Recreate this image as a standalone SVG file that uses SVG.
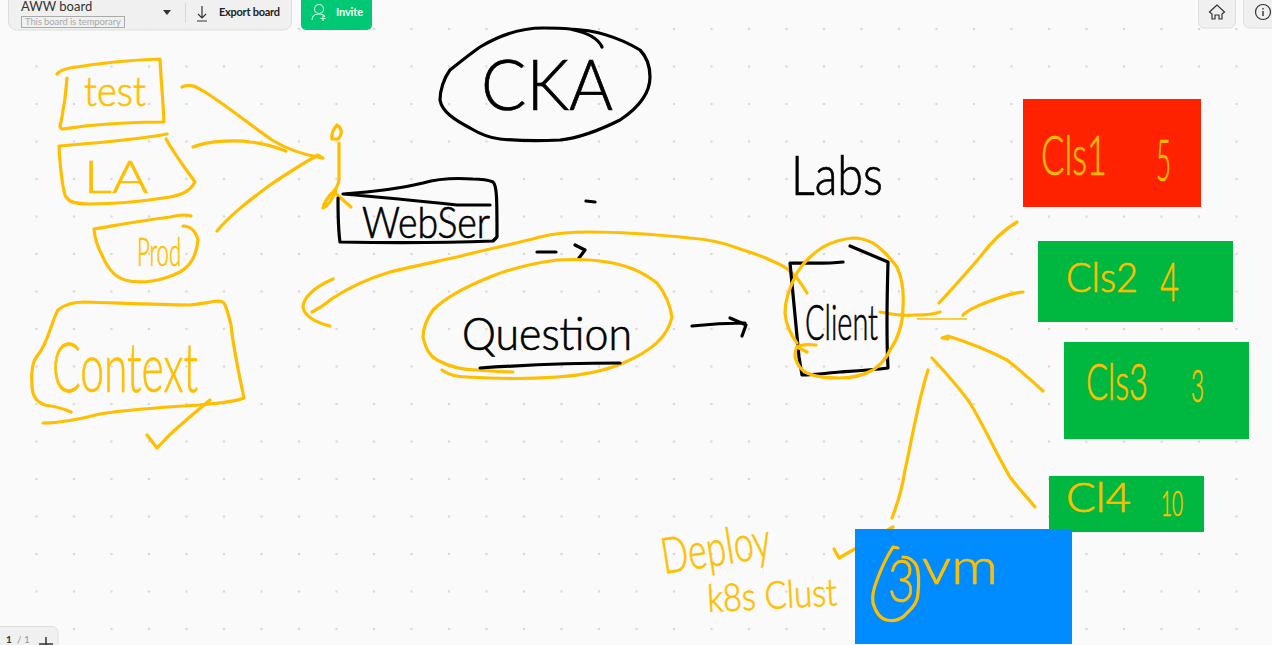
<svg xmlns="http://www.w3.org/2000/svg" width="1272" height="645" viewBox="0 0 1272 645">
<style>
.y{fill:none;stroke:#ffbf00;stroke-width:3.200;stroke-linecap:round;stroke-linejoin:round}
.k{fill:none;stroke:#000;stroke-width:3.200;stroke-linecap:round;stroke-linejoin:round}
.ty,.tk{font-family:Lato,"Liberation Sans",Arial,sans-serif;font-weight:300}
.ty{fill:#ffbf00;stroke:#ffbf00;stroke-width:.7}
.tk{fill:#000;stroke:#000;stroke-width:.7}
.ui{font-family:Lato,"Liberation Sans",sans-serif}
.pan{fill:#f0f0f0;stroke:#dedede;stroke-width:1}
</style>
<defs>
<pattern id="dots" x="-1" y="-8.500" width="37.500" height="37.500" patternUnits="userSpaceOnUse"><circle cx="0" cy="0" r="1.300" fill="#d8d8d8"/><circle cx="37.500" cy="0" r="1.300" fill="#d8d8d8"/><circle cx="0" cy="37.500" r="1.300" fill="#d8d8d8"/><circle cx="37.500" cy="37.500" r="1.300" fill="#d8d8d8"/></pattern>
</defs>
<rect width="1272" height="645" fill="#fafafa"/>
<rect width="1272" height="645" fill="url(#dots)"/>

<g id="toolbar">
<rect class="pan" x="8.500" y="-12" width="283" height="42" rx="8"/>
<text class="ui" x="21" y="11" font-size="13" fill="#333">AWW board</text>
<rect x="21.500" y="16.500" width="103" height="11" fill="none" stroke="#aaa"/>
<text class="ui" x="25" y="25" font-size="9.500" fill="#aaa" textLength="96">This board is temporary</text>
<path d="M163 10h8l-4 5z" fill="#333"/>
<path d="M185.500 3v20" stroke="#d8d8d8" fill="none"/>
<path d="M202 6v12M198 14l4 4 4-4M197 21h10" fill="none" stroke="#333" stroke-width="1.200"/>
<text class="ui" x="219" y="16" font-size="11" font-weight="700" fill="#222" textLength="61">Export board</text>
<rect x="301" y="-10" width="71" height="40" rx="5" fill="#00c875"/>
<circle cx="319" cy="9" r="4.500" fill="none" stroke="#d8f7e8" stroke-width="1.100"/>
<path d="M312 20c0-5 4-6 7-6s5 1 6 3M323 16v5M320.500 18.500h5" fill="none" stroke="#d8f7e8" stroke-width="1.100"/>
<text class="ui" x="336" y="16" font-size="11" font-weight="700" fill="#eafff4" textLength="27">Invite</text>
<rect class="pan" x="1198.500" y="-10" width="37" height="38" rx="6" fill="#f5f5f5"/>
<path d="M1217 5l-7.500 7 2.500 2v5h3v-4h4v4h3v-5l2.500-2z" fill="none" stroke="#333" stroke-width="1.200"/>
<rect class="pan" x="1243.500" y="-10" width="40" height="38" rx="6" fill="#f5f5f5"/>
<circle cx="1263" cy="12" r="7.500" fill="none" stroke="#333" stroke-width="1.200"/>
<path d="M1263 11v5M1263 8v1.500" stroke="#333" stroke-width="1.400" fill="none"/>
<rect class="pan" x="-8" y="626.500" width="66" height="30" rx="6"/>
<text class="ui" x="6" y="643" font-size="10" font-weight="700" fill="#333">1</text>
<text class="ui" x="17" y="643" font-size="10" fill="#999">/ 1</text>
<path d="M39 644h14M46 637v8" stroke="#333" stroke-width="1.500" fill="none"/>
</g>

<g id="connectors">
<path class="y" d="M182 87C190 83 197 87 205 92C230 108 250 125 272 140C288 150 305 155 322 158"/>
<path class="y" d="M193 147C210 140 240 140 250 142C262 143 275 147 286 151"/>
<path class="y" d="M217 231C230 215 250 200 270 185C285 175 300 165 318 155L323 158"/>
<path class="y" d="M807 293C795 272 785 266 772 261C760 255 750 252 740 249C720 241 705 239 690 238C660 235 625 232 590 232C570 232 555 233 540 237C510 245 480 251 457 257C430 263 410 267 390 272C370 278 350 287 333 298C327 303 320 308 312 312"/>
<path class="y" d="M333 279C315 287 304 296 303 307C305 318 318 323 330 326"/>
<path class="k" d="M692 326C710 324 730 323 745 323M730 318L746 325L742 336"/>
<path class="k" d="M586 201L595 202M537 252L556 252M575 245L585 250L579 258" stroke-width="2.600"/>
<path class="y" d="M880 312C895 315 905 316 915 315C925 315 935 314 940 312"/>
<path d="M917 319L967 319" fill="none" stroke="#ffbf00" stroke-width="1.500"/>
<path class="y" d="M939 303C955 286 968 271 980 257C992 241 1005 229 1017 222"/>
<path class="y" d="M963 315C968 310 974 308 980 305C995 299 1010 293 1023 292"/>
<path class="y" d="M948 339L942 338L948 336C970 343 990 351 1007 360C1020 370 1032 381 1043 391"/>
<path class="y" d="M932 358C945 372 958 386 970 403C985 428 997 455 1010 477C1018 488 1027 497 1035 507"/>
<path class="y" d="M928 370C917 405 912 440 905 470C902 490 897 505 892 518"/>
<path class="y" d="M893 527L839 558L834 549"/>
</g>

<g id="node-test">
<path class="y" d="M57 74C60 70 65 69 70 68C100 63 130 60 160 59C161 80 163 100 164 122C135 122 105 124 85 126C75 127 68 129 62 129C59 127 60 124 61 122C64 108 66 95 67 78"/>
<text class="ty" x="84" y="106" font-size="42" textLength="62" lengthAdjust="spacingAndGlyphs">test</text>
</g>
<g id="node-la">
<path class="y" d="M59 146C95 143 135 140 167 134M166 139C175 155 185 168 195 182C190 192 180 195 170 197C145 201 115 204 90 204C75 204 68 202 65 195C61 180 60 165 59 146"/>
<text class="ty" x="84" y="193" font-size="46" textLength="64" lengthAdjust="spacingAndGlyphs">LA</text>
</g>
<g id="node-prod">
<path class="y" d="M191 216C185 214 178 215 170 217C145 220 118 225 94 229C95 240 98 248 102 255C108 270 115 277 125 280C140 284 155 281 165 278C172 276 176 274 180 272C192 265 197 252 198 240C196 231 190 226 183 226"/>
<text class="ty" x="137" y="266" font-size="40" textLength="44" lengthAdjust="spacingAndGlyphs">Prod</text>
</g>
<g id="node-context">
<path class="y" d="M71 412C62 408 53 406 45 405C36 402 32 395 32 385C31 370 33 360 38 355C44 347 47 339 50 330C53 322 55 315 58 310C65 304 75 302 85 302C120 303 155 305 190 305C200 304 210 302 218 301C222 301 224 302 225 305C228 312 229 318 231 325C233 345 238 370 244 398C235 402 218 403 200 405C165 407 130 409 100 414C80 419 60 423 43 423"/>
<path class="y" d="M147 435L157 448C163 442 168 436 175 430C187 419 198 410 210 400"/>
<text class="ty" x="52" y="392" font-size="68" textLength="146" lengthAdjust="spacingAndGlyphs">Context</text>
</g>
<g id="node-pin">
<path class="y" d="M337 125C332 131 331 135 332 139L338 139C343 134 342 128 337 125M339 143L339 180C338 186 336 189 333 192C328 197 324 203 323 208C329 205 333 198 336 190M334 192L351 207"/>
</g>
<g id="node-cka">
<path class="k" d="M602 47C598 38 585 32 570 29C560 28 550 28 543 28C520 28 500 35 480 47C470 54 460 62 450 70C444 78 440 90 440 100C442 112 455 120 470 128C480 134 490 138 500 139C520 141 540 141 560 140C580 138 600 130 620 120C638 108 650 93 650 77C650 65 647 57 640 50C620 38 598 30 570 29"/>
<text class="tk" x="481" y="110" font-size="70" textLength="132" lengthAdjust="spacingAndGlyphs">CKA</text>
</g>
<g id="node-webser">
<path class="k" d="M343 194C370 192 398 189 423 183C440 178 458 178 473 179C480 179 488 180 493 182C497 185 497 200 497 237L493 241C440 243 390 243 340 242C338 228 338 212 338 198M343 194C380 197 420 201 457 205L490 205"/>
<text class="tk" x="362" y="238" font-size="44" textLength="128" lengthAdjust="spacingAndGlyphs">WebSer</text>
</g>
<g id="node-question">
<path class="y" d="M442 370C450 376 458 377 467 377C500 379 530 379 557 377C585 375 605 371 623 363C650 352 668 336 672 317C670 304 665 293 657 283C640 270 625 265 607 262C590 259 575 259 557 260C535 263 512 268 490 277C465 287 445 298 433 310C426 320 423 329 423 337C426 350 430 356 437 360C450 367 463 370 477 370C490 371 500 372 513 372"/>
<path class="k" d="M480 368C525 365 575 363 620 363"/>
<text class="tk" x="462" y="350" font-size="46" textLength="170" lengthAdjust="spacingAndGlyphs">Question</text>
</g>
<g id="node-labs">
<text class="tk" x="791" y="195" font-size="56" textLength="92" lengthAdjust="spacingAndGlyphs">Labs</text>
</g>
<g id="node-client">
<path class="k" d="M843 262C825 264 808 263 790 263C793 295 796 325 799 357L802 375C815 375 827 373 840 372C855 371 872 370 888 368C886 332 887 297 888 262L850 246"/>
<path class="y" d="M816 345C807 344 800 345 797 347C795 350 795 353 795 357C798 367 802 371 807 373C818 378 830 378 840 378C852 378 864 375 873 370C882 364 887 357 890 350C899 337 903 322 903 307C904 292 902 278 897 267C888 255 881 248 873 243C865 239 858 238 853 238C842 239 832 242 823 247C812 254 803 263 797 273C790 286 785 300 785 313C786 324 790 334 797 343M797 347L807 352"/>
<text class="tk" x="805" y="340" font-size="50" textLength="73" lengthAdjust="spacingAndGlyphs">Client</text>
</g>
<g id="node-cls1">
<rect x="1023" y="99" width="178" height="108" fill="#ff2200"/>
<text class="ty" x="1041" y="175" font-size="56" textLength="66" lengthAdjust="spacingAndGlyphs">Cls1</text>
<text class="ty" x="1156" y="181" font-size="58" textLength="15" lengthAdjust="spacingAndGlyphs">5</text>
</g>
<g id="node-cls2">
<rect x="1038" y="241" width="195" height="81" fill="#00b83f"/>
<text class="ty" x="1066" y="292" font-size="42" textLength="72" lengthAdjust="spacingAndGlyphs">Cls2</text>
<text class="ty" x="1160" y="301" font-size="54" textLength="19" lengthAdjust="spacingAndGlyphs">4</text>
</g>
<g id="node-cls3">
<rect x="1064" y="342" width="185" height="97" fill="#00b83f"/>
<text class="ty" x="1086" y="400" font-size="52" textLength="62" lengthAdjust="spacingAndGlyphs">Cls3</text>
<text class="ty" x="1191" y="402" font-size="46" textLength="13" lengthAdjust="spacingAndGlyphs">3</text>
</g>
<g id="node-cl4">
<rect x="1049" y="476" width="155" height="56" fill="#00b83f"/>
<text class="ty" x="1066" y="512" font-size="42" textLength="65" lengthAdjust="spacingAndGlyphs">Cl4</text>
<text class="ty" x="1161" y="516" font-size="36" textLength="22" lengthAdjust="spacingAndGlyphs">10</text>
</g>
<g id="node-vm">
<rect x="855" y="529" width="217" height="115" fill="#008cff"/>
<path class="y" d="M898 548L893 547C886 558 881 569 877 580C873 590 872 597 873 603C876 613 881 619 887 620C896 622 902 619 907 613C914 607 918 600 918 593C919 583 919 574 917 567C914 560 909 557 903 557"/>
<text class="ty" x="888" y="602" font-size="60" textLength="27" lengthAdjust="spacingAndGlyphs">3</text>
<text class="ty" x="922" y="584" font-size="50" textLength="76" lengthAdjust="spacingAndGlyphs">vm</text>
</g>
<g id="node-deploy">
<text class="ty" x="664" y="574" font-size="50" textLength="110" lengthAdjust="spacingAndGlyphs" transform="rotate(-9 664 574)">Deploy</text>
<text class="ty" x="708" y="612" font-size="38" textLength="130" lengthAdjust="spacingAndGlyphs" transform="rotate(-3 708 612)">k8s Clust</text>
</g>
</svg>
